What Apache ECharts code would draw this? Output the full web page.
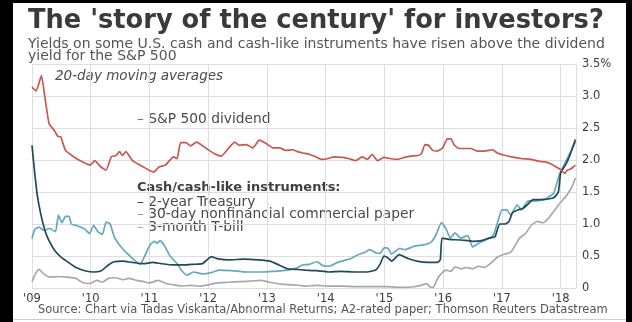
<!DOCTYPE html>
<html>
<head>
<meta charset="utf-8">
<script src="https://cdn.jsdelivr.net/npm/echarts@6/dist/echarts.min.js"></script>
<style>
    html, body { margin: 0; padding: 0; background: #fff; }
    #chart { width: 632px; height: 322px; }
</style>
</head>
<body>
<div id="chart"></div>
<script>
'use strict';

// x ticks (years) and their labels
const yearTicks = [2009, 2010, 2011, 2012, 2013, 2014, 2015, 2016, 2017, 2018];
const yearLabels = ["'09", "'10", "'11", "'12", "'13", "'14", "'15", "'16", "'17", "'18"];

// y ticks and labels
const yTicks = [0, 0.5, 1, 1.5, 2, 2.5, 3, 3.5];
const yLabels = ['0', '0.5', '1.0', '1.5', '2.0', '2.5', '3.0', '3.5%'];

// [year, yield %]
const spDividend = [
    [2009.00, 3.14], [2009.07, 3.08], [2009.16, 3.32], [2009.22, 2.98], [2009.29, 2.57],
    [2009.38, 2.46], [2009.44, 2.37], [2009.49, 2.36], [2009.57, 2.15], [2009.71, 2.05],
    [2009.82, 1.99], [2009.99, 1.92], [2010.07, 1.99], [2010.16, 1.90], [2010.26, 1.84],
    [2010.35, 2.05], [2010.43, 2.07], [2010.49, 2.13], [2010.54, 2.07], [2010.60, 2.13],
    [2010.71, 1.99], [2010.88, 1.90], [2011.07, 1.81], [2011.16, 1.89], [2011.27, 1.92],
    [2011.41, 2.05], [2011.47, 2.02], [2011.53, 2.27], [2011.62, 2.27], [2011.70, 2.22],
    [2011.80, 2.28], [2011.97, 2.18], [2012.10, 2.10], [2012.22, 2.06], [2012.36, 2.20],
    [2012.45, 2.28], [2012.53, 2.23], [2012.65, 2.24], [2012.76, 2.19], [2012.87, 2.31],
    [2012.98, 2.26], [2013.10, 2.19], [2013.21, 2.19], [2013.32, 2.15], [2013.44, 2.16],
    [2013.52, 2.13], [2013.61, 2.11], [2013.72, 2.09], [2013.83, 2.05], [2013.92, 2.01],
    [2014.03, 2.02], [2014.14, 2.05], [2014.29, 2.04], [2014.40, 2.02], [2014.51, 1.99],
    [2014.62, 2.05], [2014.71, 2.01], [2014.79, 2.09], [2014.88, 1.99], [2014.99, 2.04],
    [2015.11, 2.02], [2015.23, 2.01], [2015.34, 2.04], [2015.45, 2.06], [2015.57, 2.07],
    [2015.63, 2.10], [2015.69, 2.24], [2015.75, 2.23], [2015.82, 2.15], [2015.90, 2.14],
    [2015.99, 2.19], [2016.07, 2.33], [2016.13, 2.33], [2016.19, 2.23], [2016.27, 2.18],
    [2016.36, 2.18], [2016.47, 2.18], [2016.58, 2.14], [2016.70, 2.14], [2016.84, 2.16],
    [2016.92, 2.11], [2017.06, 2.07], [2017.21, 2.04], [2017.35, 2.02], [2017.49, 2.01],
    [2017.63, 1.98], [2017.74, 1.97], [2017.83, 1.94], [2017.91, 1.90], [2018.00, 1.85],
    [2018.07, 1.79], [2018.11, 1.84], [2018.17, 1.86], [2018.25, 1.92]
];

const twoYearTreasury = [
    [2009.00, 2.23], [2009.04, 1.85], [2009.09, 1.45], [2009.15, 1.15], [2009.22, 0.90],
    [2009.30, 0.72], [2009.40, 0.57], [2009.50, 0.48], [2009.62, 0.40], [2009.75, 0.32],
    [2009.90, 0.27], [2010.05, 0.25], [2010.18, 0.27], [2010.30, 0.36], [2010.40, 0.41],
    [2010.55, 0.42], [2010.70, 0.40], [2010.90, 0.38], [2011.05, 0.40], [2011.20, 0.38],
    [2011.40, 0.36], [2011.60, 0.36], [2011.75, 0.37], [2011.90, 0.38], [2011.98, 0.44],
    [2012.05, 0.49], [2012.15, 0.46], [2012.35, 0.44], [2012.60, 0.45], [2012.85, 0.44],
    [2013.05, 0.42], [2013.20, 0.36], [2013.35, 0.30], [2013.50, 0.29], [2013.65, 0.28],
    [2013.85, 0.27], [2014.05, 0.25], [2014.25, 0.26], [2014.50, 0.25], [2014.70, 0.25],
    [2014.85, 0.28], [2014.93, 0.38], [2014.99, 0.50], [2015.06, 0.47], [2015.12, 0.42],
    [2015.25, 0.52], [2015.40, 0.46], [2015.55, 0.42], [2015.75, 0.40], [2015.90, 0.40],
    [2015.95, 0.44], [2015.98, 0.78], [2016.10, 0.76], [2016.30, 0.75], [2016.50, 0.73],
    [2016.65, 0.74], [2016.78, 0.78], [2016.88, 0.80], [2016.96, 1.00], [2017.05, 1.00],
    [2017.12, 1.04], [2017.18, 1.18], [2017.27, 1.22], [2017.35, 1.24], [2017.43, 1.30],
    [2017.53, 1.38], [2017.70, 1.38], [2017.88, 1.41], [2017.96, 1.50], [2018.00, 1.80],
    [2018.08, 1.92], [2018.15, 2.06], [2018.25, 2.32]
];

const commercialPaper = [
    [2009.00, 0.77], [2009.05, 0.92], [2009.12, 0.95], [2009.20, 0.90], [2009.30, 0.93],
    [2009.40, 0.88], [2009.45, 1.14], [2009.51, 1.02], [2009.57, 1.12], [2009.63, 1.12],
    [2009.67, 1.00], [2009.78, 0.97], [2009.90, 0.92], [2009.98, 0.85], [2010.05, 0.98],
    [2010.12, 0.88], [2010.20, 0.84], [2010.26, 1.03], [2010.33, 1.00], [2010.40, 0.80],
    [2010.50, 0.66], [2010.62, 0.54], [2010.76, 0.42], [2010.84, 0.37], [2010.92, 0.50],
    [2011.00, 0.66], [2011.08, 0.73], [2011.13, 0.70], [2011.18, 0.74], [2011.25, 0.67],
    [2011.35, 0.50], [2011.47, 0.38], [2011.55, 0.27], [2011.64, 0.20], [2011.75, 0.25],
    [2011.90, 0.22], [2012.05, 0.24], [2012.18, 0.28], [2012.40, 0.27], [2012.65, 0.25],
    [2012.90, 0.25], [2013.10, 0.26], [2013.35, 0.28], [2013.50, 0.31], [2013.60, 0.36],
    [2013.72, 0.37], [2013.85, 0.41], [2013.95, 0.35], [2014.05, 0.34], [2014.20, 0.40],
    [2014.35, 0.44], [2014.45, 0.47], [2014.55, 0.52], [2014.65, 0.55], [2014.75, 0.60],
    [2014.85, 0.55], [2014.92, 0.54], [2015.00, 0.63], [2015.06, 0.62], [2015.12, 0.53],
    [2015.18, 0.57], [2015.26, 0.62], [2015.35, 0.60], [2015.50, 0.65], [2015.70, 0.68],
    [2015.80, 0.72], [2015.88, 0.84], [2015.97, 1.02], [2016.05, 0.92], [2016.12, 0.78],
    [2016.20, 0.86], [2016.30, 0.78], [2016.42, 0.82], [2016.50, 0.64], [2016.60, 0.70],
    [2016.75, 0.76], [2016.85, 0.82], [2016.93, 1.04], [2017.00, 1.22], [2017.08, 1.22],
    [2017.15, 1.14], [2017.26, 1.30], [2017.33, 1.22], [2017.45, 1.36], [2017.60, 1.36],
    [2017.75, 1.40], [2017.88, 1.48], [2017.98, 1.78], [2018.10, 2.00], [2018.25, 2.28]
];

const threeMonthTbill = [
    [2009.00, 0.10], [2009.06, 0.22], [2009.12, 0.29], [2009.20, 0.22], [2009.30, 0.17],
    [2009.45, 0.18], [2009.60, 0.17], [2009.75, 0.15], [2009.85, 0.09], [2009.98, 0.07],
    [2010.10, 0.12], [2010.20, 0.09], [2010.30, 0.15], [2010.42, 0.16], [2010.55, 0.13],
    [2010.65, 0.15], [2010.78, 0.12], [2010.90, 0.10], [2011.00, 0.08], [2011.15, 0.12],
    [2011.28, 0.07], [2011.40, 0.05], [2011.55, 0.03], [2011.70, 0.04], [2011.85, 0.03],
    [2012.00, 0.05], [2012.15, 0.08], [2012.35, 0.09], [2012.55, 0.10], [2012.75, 0.11],
    [2012.90, 0.12], [2013.05, 0.09], [2013.25, 0.06], [2013.45, 0.05], [2013.65, 0.03],
    [2013.85, 0.04], [2014.05, 0.03], [2014.30, 0.03], [2014.55, 0.02], [2014.80, 0.02],
    [2015.05, 0.02], [2015.30, 0.01], [2015.50, 0.02], [2015.65, 0.05], [2015.72, 0.07],
    [2015.77, 0.02], [2015.83, 0.01], [2015.90, 0.14], [2015.97, 0.23], [2016.05, 0.28],
    [2016.13, 0.26], [2016.20, 0.33], [2016.30, 0.30], [2016.40, 0.32], [2016.50, 0.30],
    [2016.60, 0.34], [2016.70, 0.32], [2016.80, 0.38], [2016.92, 0.48], [2017.05, 0.53],
    [2017.15, 0.56], [2017.22, 0.66], [2017.30, 0.78], [2017.40, 0.85], [2017.50, 0.98],
    [2017.60, 1.04], [2017.70, 1.02], [2017.80, 1.10], [2017.90, 1.22], [2017.98, 1.32],
    [2018.06, 1.40], [2018.14, 1.50], [2018.20, 1.60], [2018.25, 1.72]
];

const colors = {
    sp: '#c9574e',
    treasury: '#1f4a56',
    paper: '#66a8bf',
    tbill: '#a8a8a8',
    text: '#4a4a4a',
};

const font = '"DejaVu Sans", sans-serif';

document.addEventListener('DOMContentLoaded', () => {
    const chart = echarts.init(document.getElementById('chart'), null, { renderer: 'canvas' });

    const lineSeries = (name, data, color) => ({
        name,
        type: 'line',
        data,
        showSymbol: false,
        smooth: 0.15,
        lineStyle: { color, width: 1.7 },
        itemStyle: { color },
        z: 3,
    });

    const legendLine = (y, label, color) => ({
        type: 'text',
        x: 137,
        y,
        style: {
            text: '{d|–} ' + label,
            font: '13.8px ' + font,
            fill: colors.text,
            textVerticalAlign: 'middle',
            rich: { d: { fill: color, font: '13.8px ' + font } },
        },
    });

    chart.setOption({
        animation: false,
        backgroundColor: '#fff',
        grid: { left: 32, right: 56, top: 64, bottom: 34 },
        xAxis: {
            type: 'value',
            min: 2009,
            max: 2018.26,
            interval: 1,
            axisLine: { show: false },
            axisTick: { show: false },
            splitLine: { show: true, lineStyle: { color: '#dedede', width: 1 } },
            axisLabel: {
                margin: 5,
                color: '#3c3c3c',
                fontFamily: font,
                fontSize: 11.5,
                formatter: (v) => {
                    const i = yearTicks.indexOf(v);
                    return i < 0 ? '' : yearLabels[i];
                },
            },
        },
        yAxis: {
            type: 'value',
            position: 'right',
            min: 0,
            max: 3.5,
            interval: 0.5,
            axisLine: { show: false },
            axisTick: { show: false },
            splitLine: { show: true, lineStyle: { color: '#dedede', width: 1 } },
            axisLabel: {
                margin: 6,
                color: '#3c3c3c',
                fontFamily: font,
                fontSize: 11.5,
                formatter: (v) => {
                    const i = yTicks.indexOf(v);
                    return i < 0 ? '' : yLabels[i];
                },
            },
        },
        series: [
            lineSeries('3-month T-bill', threeMonthTbill, colors.tbill),
            lineSeries('30-day nonfinancial commercial paper', commercialPaper, colors.paper),
            lineSeries('2-year Treasury', twoYearTreasury, colors.treasury),
            lineSeries('S&P 500 dividend', spDividend, colors.sp),
        ],
        graphic: [
            // black frame of the screenshot
            { type: 'rect', shape: { x: 0, y: 0, width: 13, height: 322 }, style: { fill: '#000' } },
            { type: 'rect', shape: { x: 626, y: 0, width: 6, height: 322 }, style: { fill: '#000' } },
            { type: 'rect', shape: { x: 0, y: 0, width: 632, height: 3 }, style: { fill: '#000' } },
            { type: 'rect', shape: { x: 13, y: 319, width: 613, height: 1 }, style: { fill: '#d0d0d0' } },
            {
                type: 'text', x: 28, y: 21,
                style: {
                    text: "The 'story of the century' for investors?",
                    font: 'bold 25.7px ' + font,
                    fill: '#3a3a3a',
                    textVerticalAlign: 'middle',
                },
            },
            {
                type: 'text', x: 28, y: 44,
                style: {
                    text: 'Yields on some U.S. cash and cash-like instruments have risen above the dividend',
                    font: '14px ' + font,
                    fill: '#555',
                    textVerticalAlign: 'middle',
                },
            },
            {
                type: 'text', x: 28, y: 56,
                style: {
                    text: 'yield for the S&P 500',
                    font: '14px ' + font,
                    fill: '#555',
                    textVerticalAlign: 'middle',
                },
            },
            {
                type: 'text', x: 55, y: 76,
                style: {
                    text: '20-day moving averages',
                    font: 'italic 13.5px ' + font,
                    fill: colors.text,
                    textVerticalAlign: 'middle',
                },
            },
            legendLine(119, 'S&P 500 dividend', colors.sp),
            {
                type: 'text', x: 137, y: 188,
                style: {
                    text: 'Cash/cash-like instruments:',
                    font: 'bold 13px ' + font,
                    fill: '#3f3f3f',
                    textVerticalAlign: 'middle',
                },
            },
            legendLine(202, '2-year Treasury', colors.treasury),
            legendLine(214.5, '30-day nonfinancial commercial paper', colors.paper),
            legendLine(227, '3-month T-bill', colors.tbill),
            {
                type: 'text', x: 38, y: 310,
                style: {
                    text: 'Source: Chart via Tadas Viskanta/Abnormal Returns; A2-rated paper; Thomson Reuters Datastream',
                    font: '11.5px ' + font,
                    fill: '#555',
                    textVerticalAlign: 'middle',
                },
            },
        ],
    });
});
</script>
</body>
</html>
